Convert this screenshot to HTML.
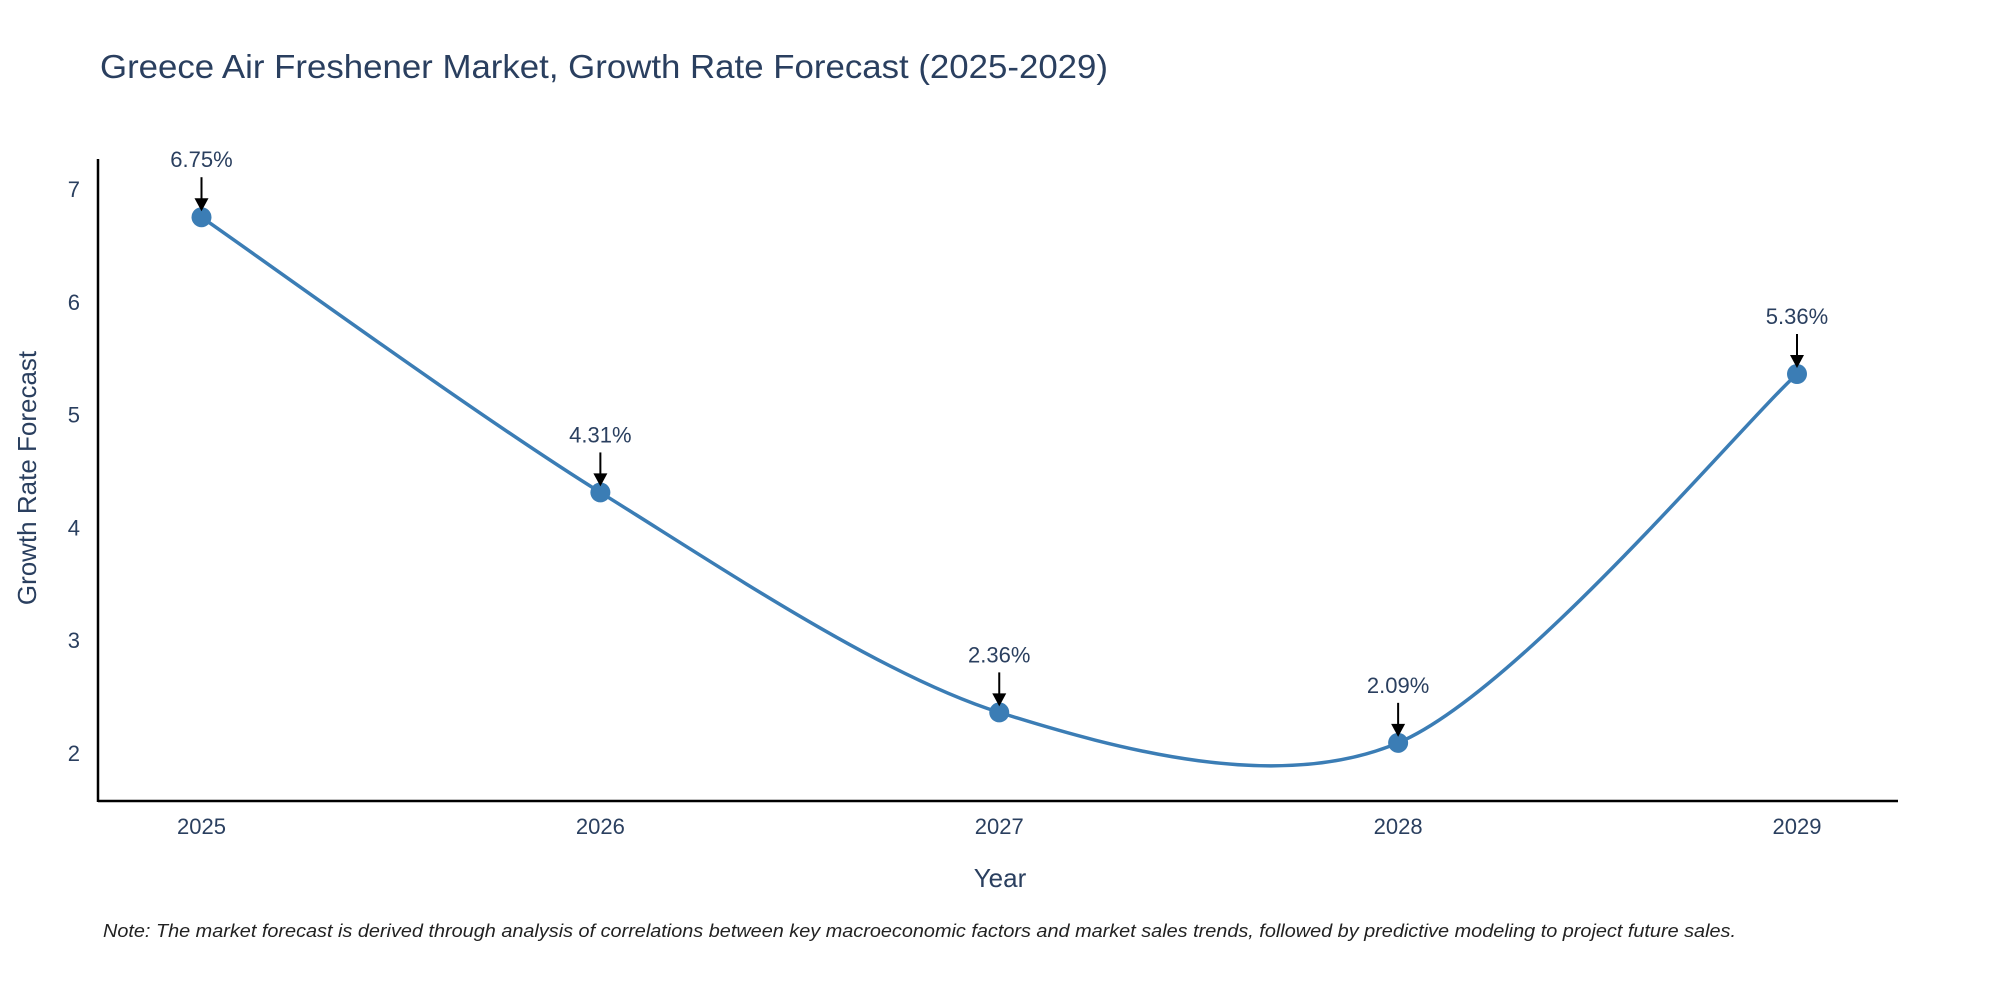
<!DOCTYPE html>
<html><head><meta charset="utf-8"><style>
body{margin:0;background:#fff;}
svg text{font-family:"Liberation Sans","DejaVu Sans",sans-serif;}
</style></head><body>
<svg id="chart" width="2000" height="1000" viewBox="0 0 2000 1000" xmlns="http://www.w3.org/2000/svg">
<rect width="2000" height="1000" fill="#fff"/>
<text x="100" y="78" font-size="33" fill="#2a3f5f" textLength="1008" lengthAdjust="spacingAndGlyphs">Greece Air Freshener Market, Growth Rate Forecast (2025-2029)</text>
<g id="plot"></g>
<text x="1000" y="887" font-size="26" fill="#2a3f5f" text-anchor="middle">Year</text>
<text transform="translate(36,478) rotate(-90)" font-size="26" fill="#2a3f5f" text-anchor="middle">Growth Rate Forecast</text>
<text x="103" y="937" font-size="18" font-style="italic" fill="#222" textLength="1633" lengthAdjust="spacingAndGlyphs">Note: The market forecast is derived through analysis of correlations between key macroeconomic factors and market sales trends, followed by predictive modeling to project future sales.</text>
</svg>
<script>
const years = [2025, 2026, 2027, 2028, 2029];
const rates = [6.75, 4.31, 2.36, 2.09, 5.36];
const yTicks = [2, 3, 4, 5, 6, 7];
const NS = "http://www.w3.org/2000/svg";
const g = document.getElementById('plot');
const x = v => 201.5 + (v - years[0]) * (1797 - 201.5) / (years[years.length-1] - years[0]);
const y = v => 753 - (v - 2) * 112.8;
function mk(tag, attrs){const e=document.createElementNS(NS,tag);for(const k in attrs)e.setAttribute(k,attrs[k]);g.appendChild(e);return e;}
let ax = mk('line',{x1:98,y1:801,x2:1898,y2:801,stroke:'#000','stroke-width':2.5});


let ay = mk('line',{x1:98,y1:159,x2:98,y2:802,stroke:'#000','stroke-width':2.5});


yTicks.forEach(t=>{
  const e=mk('text',{x:80,y:y(t)+8,'font-size':22,fill:'#2a3f5f','text-anchor':'end'});
  e.textContent=t;
  
  
});
years.forEach(t=>{
  const e=mk('text',{x:x(t),y:834,'font-size':22,fill:'#2a3f5f','text-anchor':'middle'});
  e.textContent=t;
  
  
});
const P = years.map((yr,i)=>[x(yr),y(rates[i])]);
const k = 0.15;
let d = `M${P[0][0]},${P[0][1]}`;
for(let i=0;i<P.length-1;i++){
  const p0=P[Math.max(0,i-1)],p1=P[i],p2=P[i+1],p3=P[Math.min(P.length-1,i+2)];
  const c1=[p1[0]+(p2[0]-p0[0])*k,p1[1]+(p2[1]-p0[1])*k];
  const c2=[p2[0]-(p3[0]-p1[0])*k,p2[1]-(p3[1]-p1[1])*k];
  d+=` C${c1[0]},${c1[1]} ${c2[0]},${c2[1]} ${p2[0]},${p2[1]}`;
}
const line = mk('path',{d:d,fill:'none',stroke:'#3b7db5','stroke-width':3.5});


P.forEach((p,i)=>{
  const c=mk('circle',{cx:p[0],cy:p[1],r:10,fill:'#3b7db5'});
  
  
  const a=mk('line',{x1:p[0],y1:p[1]-40,x2:p[0],y2:p[1]-16,stroke:'#000','stroke-width':2});
  
  
  const h=mk('polygon',{points:`${p[0]-7},${p[1]-19} ${p[0]+7},${p[1]-19} ${p[0]},${p[1]-6}`,fill:'#000'});
  
  
  const t=mk('text',{x:p[0],y:p[1]-50,'font-size':22,fill:'#2a3f5f','text-anchor':'middle'});
  t.textContent=rates[i].toFixed(2)+'%';
  
  
});
</script>
</body></html>
